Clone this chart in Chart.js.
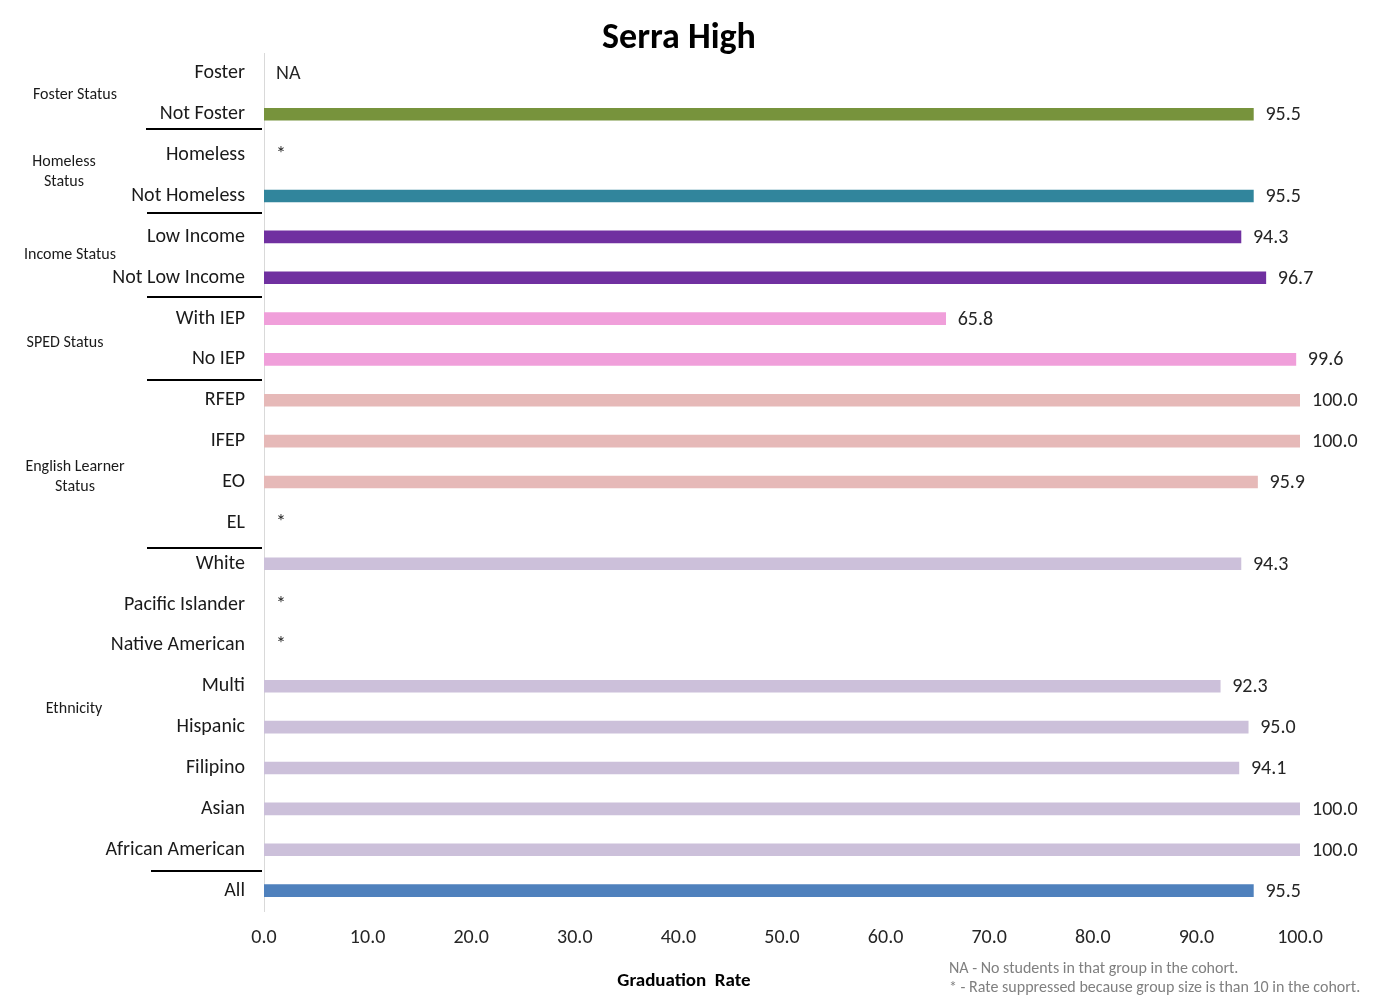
<!DOCTYPE html>
<html>
<head>
<meta charset="utf-8">
<script src="https://cdn.jsdelivr.net/npm/chart.js@4.4.0/dist/chart.umd.min.js"></script>
<style>
html, body { margin: 0; padding: 0; background: #fff; }
#wrap { width: 1373px; height: 1005px; position: relative; }
</style>
</head>
<body>
<div id="wrap"><canvas id="chart"></canvas></div>
<script>
// categories top to bottom
const categories = [
    'Foster', 'Not Foster',
    'Homeless', 'Not Homeless',
    'Low Income', 'Not Low Income',
    'With IEP', 'No IEP',
    'RFEP', 'IFEP', 'EO', 'EL',
    'White', 'Pacific Islander', 'Native American', 'Multi', 'Hispanic', 'Filipino', 'Asian', 'African American',
    'All'
];
const rates = [
    null, 95.5,
    null, 95.5,
    94.3, 96.7,
    65.8, 99.6,
    100.0, 100.0, 95.9, null,
    94.3, null, null, 92.3, 95.0, 94.1, 100.0, 100.0,
    95.5
];
const notes = [
    'NA', '',
    '*', '',
    '', '',
    '', '',
    '', '', '', '*',
    '', '*', '*', '', '', '', '', '',
    ''
];
const groupNames = ['Foster Status', 'Homeless\nStatus', 'Income Status', 'SPED Status', 'English Learner\nStatus', 'Ethnicity', ''];
const groupStarts = [0, 2, 4, 6, 8, 12, 20];
const groupEnds = [1, 3, 5, 7, 11, 19, 20];
const xTicks = [0, 10, 20, 30, 40, 50, 60, 70, 80, 90, 100];
const footnotes = ['NA - No students in that group in the cohort.', '* - Rate suppressed because group size is than 10 in the cohort.'];

const FONT = "Carlito, Lato, 'Open Sans', sans-serif";
const groupColors = ['#77933C', '#31859C', '#7030A0', '#F09FDA', '#E6B9B8', '#CCC0DA', '#4F81BD'];
// hand placement of the group captions and divider lines, as in the original sheet
const groupLabelX = [75, 64, 70, 65, 75, 74, 0];
const groupLabelDy = [1, -4, -2, 4, 15, 2, 0];
const dividerDy = [-6, -3, -1, 0, 5, 1];
const dividerLeft = [146, 147, 147, 147, 147, 151];

const barColors = categories.map((c, i) => {
    const g = groupStarts.findIndex((s, k) => i >= s && i <= groupEnds[k]);
    return groupColors[g];
});

const extrasPlugin = {
    id: 'extras',
    afterDraw(chart) {
        const ctx = chart.ctx;
        const xs = chart.scales.x;
        const ys = chart.scales.y;
        const meta = chart.getDatasetMeta(0);
        ctx.save();

        // title
        ctx.fillStyle = '#000';
        ctx.font = `bold 36px ${FONT}`;
        ctx.textAlign = 'center';
        ctx.textBaseline = 'middle';
        ctx.fillText('Serra High', 679, 39);

        // value labels and notes
        ctx.font = `20px ${FONT}`;
        ctx.textAlign = 'left';
        ctx.fillStyle = '#262626';
        categories.forEach((c, i) => {
            const y = ys.getPixelForValue(i);
            if (rates[i] !== null) {
                const el = meta.data[i];
                ctx.fillText(rates[i].toFixed(1), el.x + 12, y + 1);
            } else {
                ctx.fillText(notes[i], xs.getPixelForValue(0) + 12, y + (notes[i] === '*' ? 0 : 1));
            }
        });

        // group labels
        ctx.font = `16px ${FONT}`;
        ctx.textAlign = 'center';
        ctx.fillStyle = '#1a1a1a';
        groupNames.forEach((name, k) => {
            if (!name) return;
            const lines = name.split('\n');
            const yMid = (ys.getPixelForValue(groupStarts[k]) + ys.getPixelForValue(groupEnds[k])) / 2 + groupLabelDy[k];
            lines.forEach((ln, j) => {
                ctx.fillText(ln, groupLabelX[k], yMid + (j - (lines.length - 1) / 2) * 20);
            });
        });

        // group separators
        ctx.strokeStyle = '#000';
        ctx.lineWidth = 2;
        groupEnds.slice(0, -1).forEach((e, k) => {
            const y = Math.round((ys.getPixelForValue(e) + ys.getPixelForValue(e + 1)) / 2) + dividerDy[k];
            ctx.beginPath();
            ctx.moveTo(dividerLeft[k], y);
            ctx.lineTo(262, y);
            ctx.stroke();
        });

        // axis title
        ctx.font = `bold 19px ${FONT}`;
        ctx.fillStyle = '#000';
        ctx.textAlign = 'center';
        ctx.fillText('Graduation  Rate', 684, 981);

        // footnotes
        ctx.font = `16px ${FONT}`;
        ctx.fillStyle = '#808080';
        ctx.textAlign = 'left';
        ctx.fillText(footnotes[0], 949, 969);
        ctx.fillText(footnotes[1], 949, 988);

        ctx.restore();
    }
};

new Chart(document.getElementById('chart'), {
    type: 'bar',
    data: {
        labels: categories,
        datasets: [{
            data: rates,
            backgroundColor: barColors,
            borderWidth: 0,
            barThickness: 12
        }]
    },
    options: {
        indexAxis: 'y',
        responsive: true,
        maintainAspectRatio: false,
        animation: false,
        layout: { padding: { top: 53, right: 73, left: 0, bottom: 0 } },
        plugins: {
            legend: { display: false },
            tooltip: { enabled: false }
        },
        scales: {
            x: {
                min: 0,
                max: 100,
                afterBuildTicks: (s) => { s.ticks = xTicks.map(v => ({ value: v })); },
                afterFit: (s) => { s.height = 94; },
                ticks: {
                    callback: (v) => Number(v).toFixed(1),
                    font: { family: FONT, size: 20 },
                    color: '#262626',
                    padding: 15,
                    maxRotation: 0
                },
                grid: { display: false, drawTicks: false },
                border: { display: false }
            },
            y: {
                afterFit: (s) => { s.width = 264; },
                ticks: {
                    font: { family: FONT, size: 20 },
                    color: '#1a1a1a',
                    padding: 19,
                    autoSkip: false
                },
                grid: { display: false, drawTicks: false },
                border: { display: true, color: '#d9d9d9', width: 1 }
            }
        }
    },
    plugins: [extrasPlugin]
});
</script>
</body>
</html>
